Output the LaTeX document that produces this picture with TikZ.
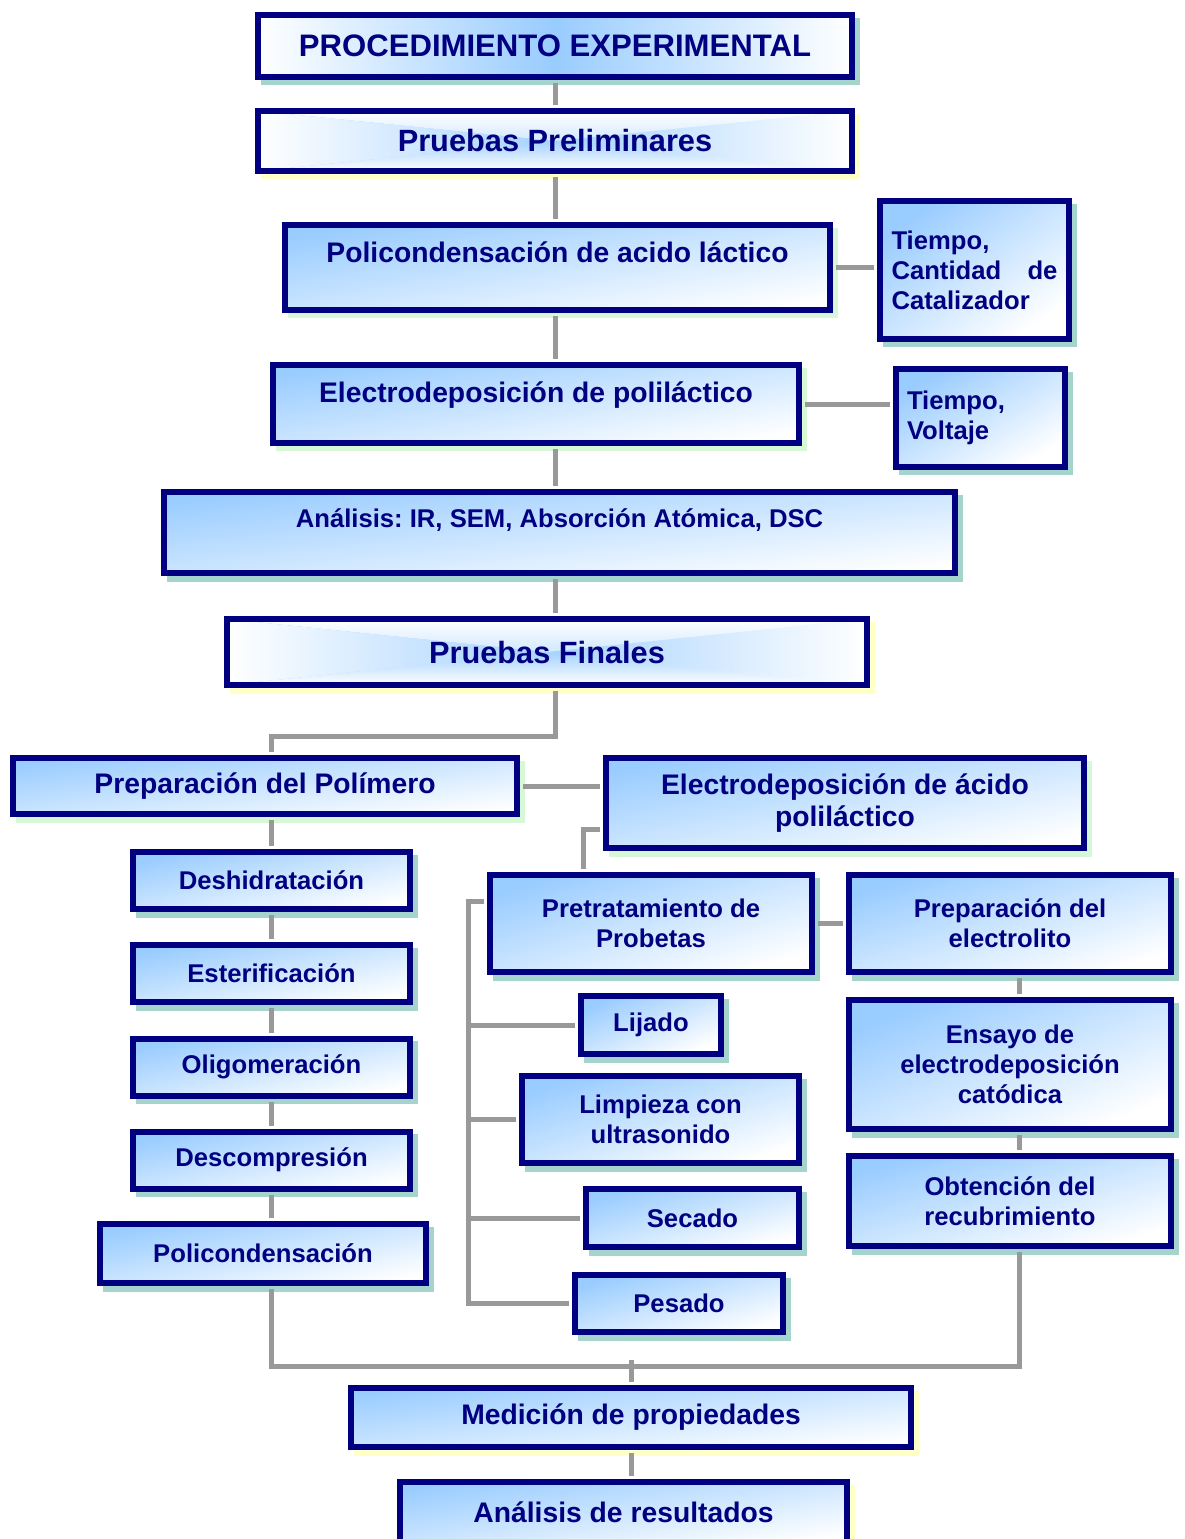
\documentclass[tikz,border=0pt]{standalone}
\usepackage{fontspec}
\setmainfont{Liberation Sans}
\usepackage{tikz}
\usetikzlibrary{shadows}
\definecolor{marino}{RGB}{0,0,128}
\definecolor{celeste}{RGB}{153,204,255}
\definecolor{celestec}{RGB}{165,210,255}
\definecolor{gris}{RGB}{153,153,153}
\definecolor{sombraT}{RGB}{165,212,204}
\definecolor{sombraA}{RGB}{255,255,200}
\definecolor{sombraV}{RGB}{215,248,215}
\newcommand{\fgrande}{\fontsize{17.5}{21}\selectfont}
\newcommand{\ftitulo}{\fontsize{17.7}{21}\selectfont}
\newcommand{\fmedio}{\fontsize{16.1}{18.7}\selectfont}
\newcommand{\fchico}{\fontsize{14.6}{17}\selectfont}
\frenchspacing
\tikzset{
  sombra/.style={drop shadow={shadow xshift=0.11cm,shadow yshift=-0.11cm,fill=#1,draw=#1,line width=0.12cm,opacity=1}},
  caja/.style={draw=marino,line width=0.12cm,text=marino,font=\bfseries\fmedio,top color=celeste,bottom color=white,shading angle=20,inner sep=0pt,sombra=#1},
  caja/.default=sombraT,
  % degradado rectangular desde el centro
  brillo/.style={path picture={
    \shade[top color=white,bottom color=celestec](path picture bounding box.north west)--(path picture bounding box.north east)--(path picture bounding box.center)--cycle;
    \shade[top color=celestec,bottom color=white](path picture bounding box.south west)--(path picture bounding box.south east)--(path picture bounding box.center)--cycle;
    \shade[left color=white,right color=celestec](path picture bounding box.north west)--(path picture bounding box.south west)--(path picture bounding box.center)--cycle;
    \shade[left color=celestec,right color=white](path picture bounding box.north east)--(path picture bounding box.south east)--(path picture bounding box.center)--cycle;}},
  grande/.style={font=\bfseries\fgrande},
  chica/.style={font=\bfseries\fchico},
  linea/.style={draw=gris,line width=0.1cm,shorten <=0.06cm,shorten >=0.06cm}
}
\begin{document}
\begin{tikzpicture}[x=0.02cm,y=-0.02cm]
\useasboundingbox(0,0)rectangle(1184,1539);
% parte superior
\node[caja,left color=white,right color=white,middle color=celeste,font=\bfseries\ftitulo,minimum width=11.88cm,minimum height=1.24cm](titulo)at(555,46){PROCEDIMIENTO EXPERIMENTAL};
\node[caja=sombraA,brillo,grande,minimum width=11.88cm,minimum height=1.2cm](prelim)at(555,141){Pruebas Preliminares};
\node[caja=sombraV,shading angle=9.4,minimum width=10.9cm,minimum height=1.7cm,text height=0.4cm,text depth=0.6cm](policond)at(557.5,267.5){Policondensación de acido láctico};
\node[caja,chica,shading angle=36,minimum width=3.78cm,minimum height=2.76cm,text width=3.32cm,align=left](tiempo1)at(974.5,270){Tiempo,\\Cantidad\hfill de\\Catalizador};
\node[caja=sombraV,shading angle=9,minimum width=10.52cm,minimum height=1.56cm,text height=0.4cm,text depth=0.48cm](electro)at(536,404){Electrodeposición de poliláctico};
\node[caja,chica,shading angle=31,minimum width=3.38cm,minimum height=1.96cm,text width=2.94cm,align=left](tiempo2)at(980.5,418){Tiempo,\\Voltaje};
\node[caja,chica,shading angle=6.2,minimum width=15.82cm,minimum height=1.62cm,text height=0.37cm,text depth=0.58cm](analisis)at(559.5,532.5){Análisis: IR, SEM, Absorción Atómica, DSC};
\node[caja=sombraA,brillo,grande,minimum width=12.8cm,minimum height=1.32cm](finales)at(547,652){Pruebas Finales};
% polimero
\node[caja=sombraV,shading angle=7,minimum width=10.08cm,minimum height=1.12cm](prepol)at(265,786){Preparación del Polímero};
\node[caja,chica,shading angle=12.6,minimum width=5.54cm,minimum height=1.14cm](deshid)at(271.5,880.5){Deshidratación};
\node[caja,chica,shading angle=12.6,minimum width=5.54cm,minimum height=1.14cm](ester)at(271.5,973.5){Esterificación};
\node[caja,chica,shading angle=12.6,minimum width=5.54cm,minimum height=1.14cm](oligo)at(271.5,1067){Oligomeración};
\node[caja,chica,shading angle=12.6,minimum width=5.54cm,minimum height=1.14cm](descomp)at(271.5,1160){Descompresión};
\node[caja,chica,shading angle=11.1,minimum width=6.52cm,minimum height=1.18cm](policondensacion)at(263,1253.5){Policondensación};
% electrodeposicion
\node[caja=sombraV,shading angle=11.2,align=center,minimum width=9.56cm,minimum height=1.8cm](electacido)at(845,803){Electrodeposición de ácido\\poliláctico};
\node[caja,chica,shading angle=17.4,align=center,minimum width=6.44cm,minimum height=1.94cm](pretrat)at(651,923.5){Pretratamiento de\\Probetas};
\node[caja,chica,shading angle=17.4,align=center,minimum width=6.44cm,minimum height=1.94cm](prepelec)at(1010,923.5){Preparación del\\electrolito};
\node[caja,chica,shading angle=23.7,minimum width=2.8cm,minimum height=1.16cm](lijado)at(651,1025){Lijado};
\node[caja,chica,shading angle=18.2,align=center,minimum width=5.54cm,minimum height=1.74cm](limpieza)at(660.5,1119.5){Limpieza con\\ultrasonido};
\node[caja,chica,shading angle=16.3,minimum width=4.26cm,minimum height=1.16cm](secado)at(692.5,1218){Secado};
\node[caja,chica,shading angle=16.4,minimum width=4.16cm,minimum height=1.14cm](pesado)at(679,1303.5){Pesado};
\node[caja,chica,shading angle=22.4,align=center,minimum width=6.44cm,minimum height=2.58cm](ensayo)at(1010,1064.5){Ensayo de\\electrodeposición\\catódica};
\node[caja,chica,shading angle=16.3,align=center,minimum width=6.44cm,minimum height=1.8cm](obtencion)at(1010,1201){Obtención del\\recubrimiento};
% final
\node[caja=sombraA,shading angle=6.6,minimum width=11.2cm,minimum height=1.18cm](medicion)at(631,1417.5){Medición de propiedades};
\node[caja=sombraA,shading angle=8.3,minimum width=8.94cm,minimum height=1.2cm](resultados)at(623.5,1512){Análisis de resultados};
\coordinate(barra)at(468,901);
% conectores
\draw[linea](titulo.south)--(prelim.north);
\draw[linea](prelim.south)--(prelim.south|-policond.north);
\draw[linea](policond.east)--(policond.east-|tiempo1.west);
\draw[linea](prelim.south|-policond.south)--(prelim.south|-electro.north);
\draw[linea](electro.east)--(electro.east-|tiempo2.west);
\draw[linea](prelim.south|-electro.south)--(prelim.south|-analisis.north);
\draw[linea](prelim.south|-analisis.south)--(prelim.south|-finales.north);
\draw[linea](prelim.south|-finales.south)--++(0,48)-|(deshid|-prepol.north);
\draw[linea](prepol.east)--(prepol.east-|electacido.west);
\draw[linea](deshid|-prepol.south)--(deshid.north);
\draw[linea](deshid.south)--(ester.north);
\draw[linea](ester.south)--(oligo.north);
\draw[linea](oligo.south)--(descomp.north);
\draw[linea](descomp.south)--(descomp.south|-policondensacion.north);
\draw[linea](descomp.south|-policondensacion.south)--++(0,80)-|([xshift=0.18cm]obtencion.south);
\draw[linea,shorten >=0pt](medicion.north)--++(0,-25);
\draw[linea](medicion.south)--(medicion.south|-resultados.north);
\draw[linea]([yshift=-0.52cm]electacido.west)-|([xshift=-1.36cm]pretrat.north);
\draw[linea](pretrat.east)--(pretrat.east-|prepelec.west);
\draw[linea]([yshift=0.45cm]pretrat.west)-|(barra|-pesado.west)--(pesado.west);
\draw[linea,shorten <=0pt](barra|-lijado.west)--(lijado.west);
\draw[linea,shorten <=0pt](barra|-limpieza.west)--(limpieza.west);
\draw[linea,shorten <=0pt](barra|-secado.west)--(secado.west);
\draw[linea]([xshift=0.18cm]prepelec.south)--([xshift=0.18cm]ensayo.north);
\draw[linea]([xshift=0.18cm]ensayo.south)--([xshift=0.18cm]obtencion.north);
\end{tikzpicture}
\end{document}
